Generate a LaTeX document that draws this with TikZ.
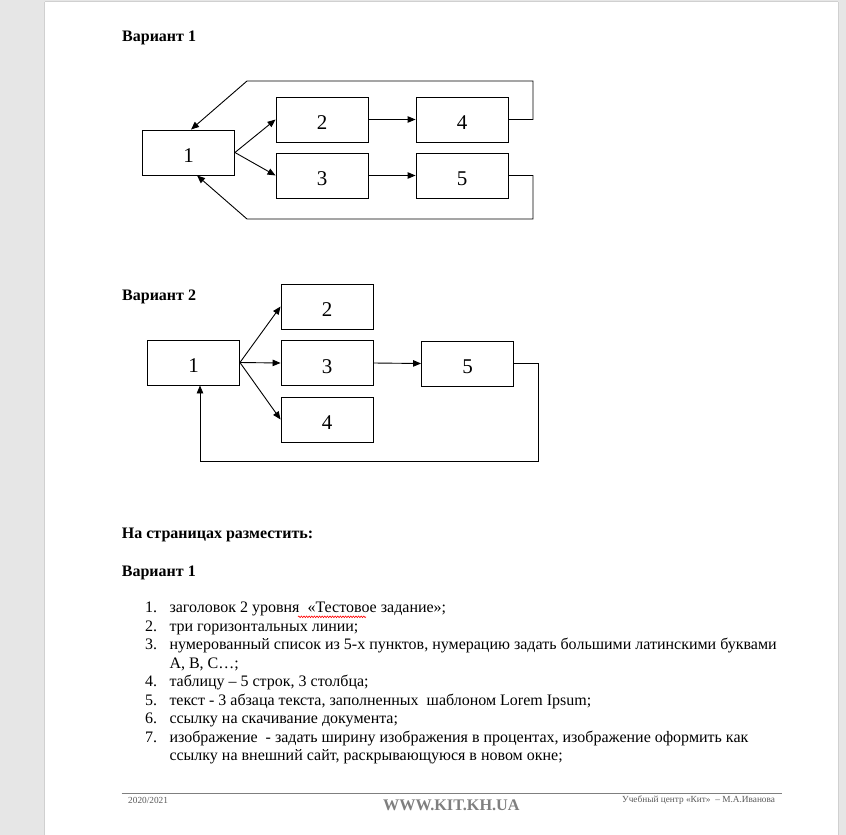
\documentclass[tikz,border=0pt]{standalone}
\usepackage{fontspec}
\setmainfont{Liberation Serif}
\usetikzlibrary{arrows.meta,decorations.pathmorphing}
\definecolor{bggray}{HTML}{E6E6E6}
\definecolor{edgegray}{HTML}{D0D0D0}
\definecolor{footgray}{HTML}{7F7F7F}
\definecolor{footdark}{HTML}{595959}
\begin{document}
\begin{tikzpicture}[x=1pt,y=-1pt,
  box/.style={draw,line width=0.9pt,minimum width=92pt,minimum height=45pt,inner sep=0pt,
    text height=20.2pt,text depth=0pt,
    font=\fontsize{21pt}{23pt}\selectfont},
  conn/.style={line width=0.9pt,-{Triangle[length=8pt,width=6.5pt]}},
  heading/.style={anchor=base west,inner sep=0pt,font=\bfseries\fontsize{16pt}{18.4pt}\selectfont},
  listtxt/.style={anchor=base west,inner sep=0pt,font=\fontsize{16pt}{18.4pt}\selectfont},
  foottxt/.style={anchor=base west,inner sep=0pt,text=footdark,font=\fontsize{9.3pt}{11pt}\selectfont},
  footbig/.style={anchor=base west,inner sep=0pt,text=footgray,font=\bfseries\fontsize{16.2pt}{18pt}\selectfont}]
% page
\useasboundingbox (0,0) rectangle (846,835);
\fill[bggray] (0,0) rectangle (846,835);
\fill[white] (45,2) rectangle (838,835);
\draw[edgegray,line width=1pt] (44.5,2) -- (44.5,835);
\draw[edgegray,line width=1pt] (838.5,2) -- (838.5,835);
\draw[edgegray,line width=1pt] (45,1.5) -- (838,1.5);

% ---------- Variant 1 ----------
\node[heading] (h1) at (122,41.7) {Вариант 1};
\node[box] (n1) at (188.5,152.5) {1};
\node[box] (n2) at (322,119.5) {2};
\node[box] (n3) at (322,175.5) {3};
\node[box] (n4) at (462,119.5) {4};
\node[box] (n5) at (462,175.5) {5};
\coordinate (a1) at (533,81);
\coordinate (a2) at (247,81);
\coordinate (b1) at (533,219);
\coordinate (b2) at (247,219);
\draw[conn] (n1.east) -- (n2.west);
\draw[conn] (n1.east) -- (n3.west);
\draw[conn] (n2.east) -- (n4.west);
\draw[conn] (n3.east) -- (n5.west);
\draw[conn] (n4.east) -| (a1) -- (a2) -- ([xshift=2.5pt]n1.north);
\draw[conn] (n5.east) -| (b1) -- (b2) -- ([xshift=8.5pt]n1.south);

% ---------- Variant 2 ----------
\node[heading] (h2) at (122,300.7) {Вариант 2};
\node[box] (m1) at (193.5,362.5) {1};
\node[box] (m2) at (327,306.5) {2};
\node[box] (m3) at (327,363) {3};
\node[box] (m4) at (327,419.5) {4};
\node[box] (m5) at (467.5,363.5) {5};
\coordinate (c1) at (538,461);
\draw[conn] (m1.east) -- (m2.west);
\draw[conn] (m1.east) -- (m3.west);
\draw[conn] (m1.east) -- (m4.west);
\draw[conn] (m3.east) -- (m5.west);
\draw[conn] (m5.east) -| (c1) -| ([xshift=6.5pt]m1.south);

% ---------- Text ----------
\node[heading] (h3) at (121.7,538.3) {На страницах разместить:};
\node[heading] (h4) at (121.7,576) {Вариант 1};

\node[listtxt] (k1) at (145,612.7) {1.};
\node[listtxt] (t1) at (169.3,612.7) {заголовок 2 уровня\ \ «Тестовое задание»;};
\node[listtxt] (k2) at (145,631.2) {2.};
\node[listtxt] (t2) at (169.3,631.2) {три горизонтальных линии;};
\node[listtxt] (k3) at (145,649.7) {3.};
\node[listtxt] (t3) at (169.3,649.7) {нумерованный список из 5-х пунктов, нумерацию задать большими латинскими буквами};
\node[listtxt] (t3b) at (169.3,668.2) {A, B, C…;};
\node[listtxt] (k4) at (145,686.7) {4.};
\node[listtxt] (t4) at (169.3,686.7) {таблицу – 5 строк, 3 столбца;};
\node[listtxt] (k5) at (145,705.2) {5.};
\node[listtxt] (t5) at (169.3,705.2) {текст - 3 абзаца текста, заполненных\ \ шаблоном Lorem Ipsum;};
\node[listtxt] (k6) at (145,723.7) {6.};
\node[listtxt] (t6) at (169.3,723.7) {ссылку на скачивание документа;};
\node[listtxt] (k7) at (145,742.2) {7.};
\node[listtxt] (t7) at (169.3,742.2) {изображение\ \ - задать ширину изображения в процентах, изображение оформить как};
\node[listtxt] (t7b) at (169.3,760.7) {ссылку на внешний сайт, раскрывающуюся в новом окне;};

\draw[red,line width=0.6pt,decorate,decoration={snake,amplitude=0.8pt,segment length=2.6pt}]
  (298,616.8) -- (366,616.8);

% ---------- Footer ----------
\draw[footgray,line width=1pt] (121.7,793.3) -- (781.7,793.3);
\node[foottxt] (f1) at (128,803.5) {2020/2021};
\node[footbig] (f2) at (383,810) {WWW.KIT.KH.UA};
\node[foottxt] (f3) at (622,802.5) {Учебный центр «Кит»\ \ – М.А.Иванова};
\end{tikzpicture}
\end{document}
